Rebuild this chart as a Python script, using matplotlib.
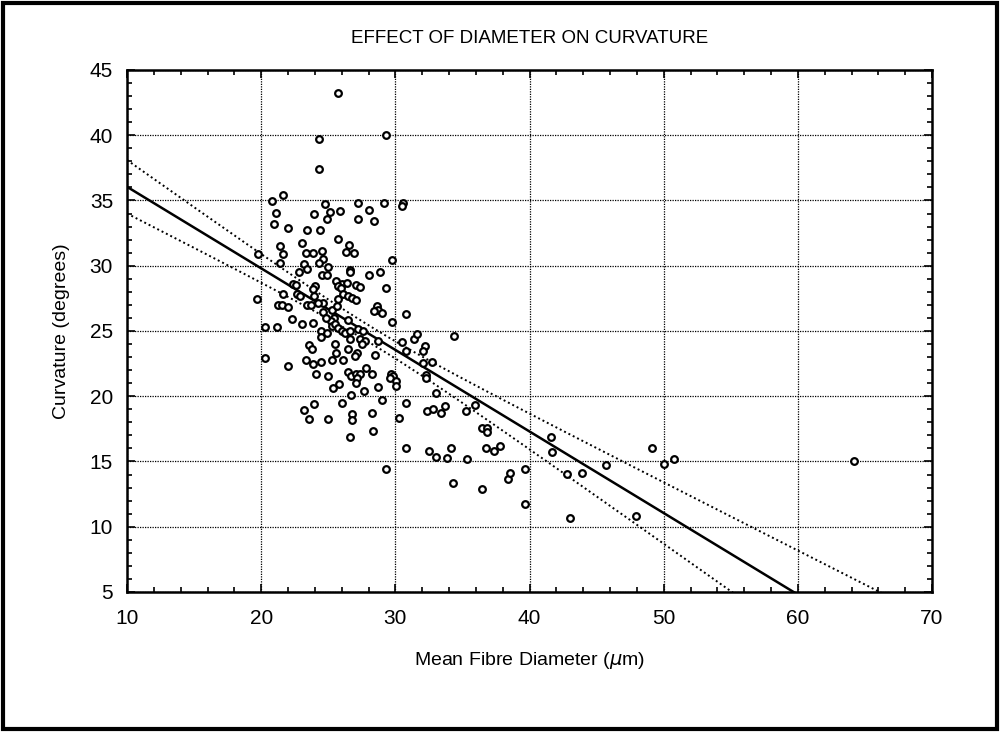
import matplotlib
matplotlib.use("Agg")
import matplotlib.pyplot as plt
import numpy as np
from matplotlib.patches import Rectangle
from matplotlib.ticker import MultipleLocator

# ---- data ----
diameter = [25.75, 24.33, 29.29, 24.33, 21.66, 20.84, 24.76, 27.19, 29.12, 30.58,
            30.46, 25.11, 21.12, 23.92, 24.88, 25.85, 28.01, 27.23, 28.42, 20.94,
            22.03, 23.42, 24.39, 25.75, 23.07, 21.43, 26.57, 24.56, 21.64, 23.35,
            23.87, 19.75, 26.32, 26.89, 24.63, 29.74, 21.39, 24.31, 23.22, 25.00,
            23.40, 26.62, 26.62, 22.85, 24.51, 24.88, 28.01, 28.87, 25.61, 22.40,
            22.58, 24.01, 23.89, 26.00, 26.37, 25.75, 25.95, 27.04, 27.36, 29.27,
            21.66, 22.65, 22.90, 23.96, 19.68, 25.69, 26.12, 26.45, 26.74, 27.04,
            24.59, 24.22, 21.29, 21.58, 21.99, 23.40, 23.72, 25.30, 25.65, 28.60,
            28.72, 28.42, 28.97, 30.83, 24.63, 25.45, 25.20, 22.28, 24.83, 26.49,
            29.76, 23.07, 23.89, 25.30, 25.50, 20.30, 21.17, 25.75, 26.00, 26.25,
            26.62, 27.23, 27.61, 24.46, 24.88, 24.46, 25.50, 23.57, 23.77, 25.55,
            26.62, 27.36, 27.73, 27.49, 28.72, 30.46, 31.40, 31.58, 32.19, 32.07,
            26.49, 30.83, 27.12, 26.99, 28.48, 26.12, 32.07, 20.25, 23.32, 23.89,
            24.46, 25.30, 21.99, 34.35, 32.74, 27.78, 26.49, 26.69, 27.04, 27.36,
            27.12, 28.28, 29.67, 29.84, 29.59, 30.04, 30.07, 32.32, 32.32, 24.07,
            25.00, 25.38, 25.82, 27.04, 28.68, 27.68, 26.69, 29.02, 26.00, 30.76,
            32.39, 26.79, 26.79, 28.23, 30.26, 28.35, 26.62, 30.78, 32.53, 23.94,
            23.20, 23.57, 24.96, 33.06, 32.81, 33.43, 33.68, 35.24, 35.96, 36.45,
            36.83, 36.85, 33.06, 33.85, 34.18, 35.34, 36.78, 37.35, 37.82, 29.29,
            34.30, 36.45, 38.39, 38.57, 39.63, 39.63, 41.61, 41.69, 42.77, 43.03,
            43.92, 45.70, 47.93, 49.12, 49.99, 50.78, 64.16]

curvature = [43.25, 39.74, 40.05, 37.38, 35.42, 34.97, 34.71, 34.84, 34.84, 34.84,
             34.61, 34.15, 34.07, 33.94, 33.56, 34.17, 34.28, 33.56, 33.44, 33.21,
             32.88, 32.75, 32.75, 32.07, 31.73, 31.48, 31.61, 31.15, 30.89, 30.97,
             30.97, 30.89, 31.08, 30.97, 30.49, 30.43, 30.21, 30.21, 30.16, 29.88,
             29.78, 29.70, 29.52, 29.52, 29.27, 29.27, 29.27, 29.52, 28.81, 28.63,
             28.56, 28.43, 28.18, 28.60, 28.68, 28.43, 28.30, 28.50, 28.35, 28.30,
             27.80, 27.84, 27.67, 27.67, 27.46, 27.48, 27.80, 27.67, 27.49, 27.41,
             27.15, 27.15, 26.96, 26.96, 26.83, 26.96, 26.96, 26.60, 26.90, 26.90,
             26.58, 26.52, 26.39, 26.32, 26.47, 26.01, 25.76, 25.93, 26.01, 25.84,
             25.71, 25.55, 25.63, 25.38, 25.51, 25.32, 25.32, 25.25, 25.00, 24.87,
             25.00, 25.13, 25.00, 25.00, 24.87, 24.56, 24.03, 23.93, 23.60, 23.30,
             24.36, 24.36, 24.23, 24.03, 24.23, 24.18, 24.41, 24.74, 23.85, 23.47,
             23.65, 23.47, 23.34, 23.09, 23.14, 22.76, 22.58, 22.91, 22.76, 22.50,
             22.65, 22.76, 22.33, 24.61, 22.63, 22.20, 21.89, 21.56, 21.69, 21.74,
             21.43, 21.74, 21.74, 21.56, 21.43, 21.18, 20.80, 21.64, 21.39, 21.69,
             21.56, 20.63, 20.93, 21.05, 20.72, 20.42, 20.09, 19.71, 19.45, 19.45,
             18.84, 18.64, 18.21, 18.72, 18.34, 17.37, 16.86, 16.02, 15.82, 19.40,
             18.97, 18.26, 18.26, 20.21, 19.02, 18.72, 19.22, 18.84, 19.33, 17.54,
             17.54, 17.24, 15.33, 15.26, 16.05, 15.16, 16.02, 15.79, 16.15, 14.45,
             13.38, 12.92, 13.68, 14.14, 14.39, 11.72, 16.86, 15.71, 14.01, 10.63,
             14.11, 14.70, 10.81, 16.05, 14.83, 15.21, 15.03]

# regression line and confidence band
fit_intercept = 42.3
fit_slope = -0.625
band_const = 0.41
band_quad = 0.01107
band_center = 28.5

x_ticks = [10, 20, 30, 40, 50, 60, 70]
y_ticks = [5, 10, 15, 20, 25, 30, 35, 40, 45]

title = "EFFECT OF DIAMETER ON CURVATURE"
xlabel = "Mean Fibre Diameter ($\\mu$m)"
ylabel = "Curvature (degrees)"

# ---- figure ----
plt.rcParams['font.family'] = ['Liberation Sans', 'DejaVu Sans']
plt.rcParams['mathtext.fontset'] = 'dejavusans'

fig = plt.figure(figsize=(10.0, 7.32), dpi=100)
fig.patch.set_facecolor('white')
ax = fig.add_axes([0.127, 0.1913, 0.805, 0.7131])

ax.set_xlim(10, 70)
ax.set_ylim(5, 45)
ax.set_xticks(x_ticks)
ax.set_yticks(y_ticks)
ax.xaxis.set_minor_locator(MultipleLocator(2))
ax.yaxis.set_minor_locator(MultipleLocator(1))
ax.tick_params(which='both', direction='in', top=True, right=True,
               colors='black', labelsize=15, width=1.2)
ax.tick_params(which='major', length=6)
ax.tick_params(axis='x', which='major', pad=12)
ax.tick_params(axis='y', which='major', pad=10)
ax.tick_params(which='minor', length=3.5)
for s in ax.spines.values():
    s.set_linewidth(1.8)
    s.set_color('black')

ax.grid(True, which='major', linestyle=(0, (1, 1.0)), color='black', linewidth=0.9)

xx = np.linspace(10, 70, 400)
yfit = fit_intercept + fit_slope * xx
half = np.sqrt(band_const + band_quad * (xx - band_center) ** 2)
ax.plot(xx, yfit, color='black', linewidth=1.8, zorder=3)
ax.plot(xx, yfit + half, color='black', linewidth=1.4, linestyle=(0, (1, 1.5)), zorder=3)
ax.plot(xx, yfit - half, color='black', linewidth=1.4, linestyle=(0, (1, 1.5)), zorder=3)

ax.plot(diameter, curvature, linestyle='none', marker='o', markersize=4.8,
        markerfacecolor='white', markeredgecolor='black', markeredgewidth=1.6, zorder=4)

fig.text(0.53, 0.948, title, ha='center', va='center', fontsize=13.5,
         family=['Liberation Sans Narrow', 'Liberation Sans', 'DejaVu Sans'])
ax.set_xlabel(xlabel, fontsize=14, labelpad=16)
ax.set_ylabel(ylabel, fontsize=14, labelpad=14)

# outer black frame of the scanned page
fig.patches.append(Rectangle((0.003, 0.004), 0.994, 0.992, transform=fig.transFigure,
                             fill=False, edgecolor='black', linewidth=3))

fig.savefig("out.png", dpi=100)
